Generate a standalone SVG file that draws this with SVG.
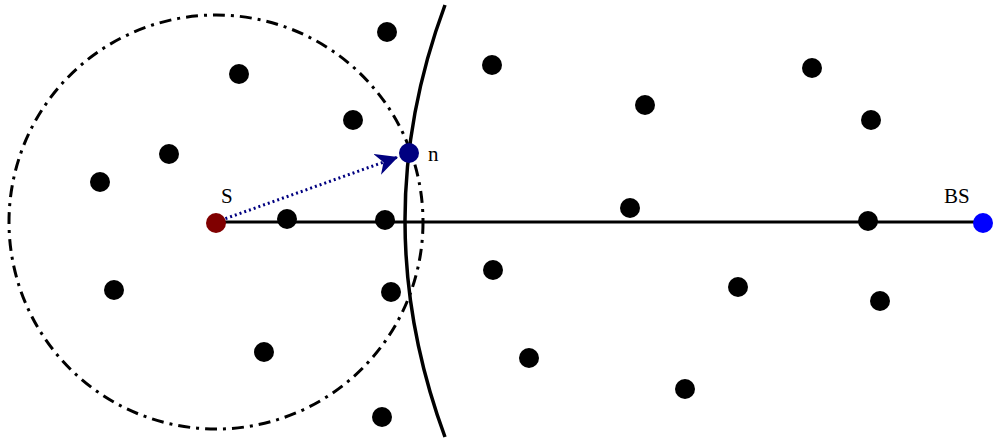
<svg xmlns="http://www.w3.org/2000/svg" width="1000" height="442" viewBox="0 0 1000 442">
<style>
.d{fill:#000}
text{font-family:"Liberation Serif",serif;font-size:21px;fill:#000}
</style>
<defs><marker id="a" viewBox="0 0 10 10" refX="9" refY="5" markerWidth="7" markerHeight="7" orient="auto" markerUnits="userSpaceOnUse"><path d="M0,0L10,5L0,10z" fill="#000080"/></marker>
<marker id="ah" viewBox="0 0 10 10" refX="10" refY="5" markerWidth="22" markerHeight="22" orient="auto" markerUnits="userSpaceOnUse"><path d="M0,0L10,5L0,10L3,5z" fill="#000080"/></marker></defs>
<g id="connectors">
<circle cx="216" cy="222" r="207" fill="none" stroke="#000" stroke-width="3" stroke-dasharray="12,6,3,6"/>
<path d="M445,5 Q365,220 445,437" fill="none" stroke="#000" stroke-width="3.5"/>
<line x1="216" y1="222" x2="983" y2="222" stroke="#000" stroke-width="3"/>
<line x1="216" y1="222" x2="398" y2="157" stroke="#000080" stroke-width="3" stroke-dasharray="2,3" marker-end="url(#ah)"/>
</g>
<g id="nodes">
<circle class="d" cx="387" cy="32" r="10"/><circle class="d" cx="239" cy="74" r="10"/><circle class="d" cx="492" cy="65" r="10"/><circle class="d" cx="812" cy="68" r="10"/><circle class="d" cx="645" cy="105" r="10"/><circle class="d" cx="871" cy="120" r="10"/><circle class="d" cx="353" cy="120" r="10"/><circle class="d" cx="169" cy="154" r="10"/><circle class="d" cx="100" cy="182" r="10"/><circle class="d" cx="287" cy="219" r="10"/><circle class="d" cx="385" cy="220" r="10"/><circle class="d" cx="630" cy="208" r="10"/><circle class="d" cx="868" cy="221" r="10"/><circle class="d" cx="493" cy="270" r="10"/><circle class="d" cx="114" cy="290" r="10"/><circle class="d" cx="391" cy="292" r="10"/><circle class="d" cx="738" cy="287" r="10"/><circle class="d" cx="880" cy="301" r="10"/><circle class="d" cx="264" cy="352" r="10"/><circle class="d" cx="529" cy="358" r="10"/><circle class="d" cx="685" cy="389" r="10"/><circle class="d" cx="382" cy="417" r="10"/>
<g id="n"><circle cx="409" cy="153" r="10" fill="#000080"/><text x="428" y="161">n</text></g>
<g id="S"><circle cx="216" cy="223" r="10" fill="#800000"/><text x="221" y="203">S</text></g>
<g id="BS"><circle cx="983" cy="223" r="10" fill="#0000ff"/><text x="944" y="203">BS</text></g>
</g>
</svg>
